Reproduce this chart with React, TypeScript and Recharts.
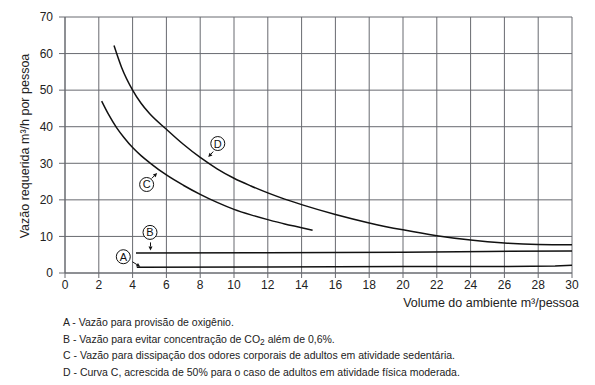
import { LineChart, Line, XAxis, YAxis, CartesianGrid } from 'recharts'

// volume (m3/pessoa) -> vazão (m3/h por pessoa)
const CURVE_A = [
  { v: 4.25, q: 1.6 }, { v: 12, q: 1.65 }, { v: 20, q: 1.75 }, { v: 26, q: 1.8 }, { v: 29, q: 1.9 }, { v: 30, q: 2.1 },
]
const CURVE_B = [
  { v: 4.2, q: 5.5 }, { v: 12, q: 5.55 }, { v: 20, q: 5.7 }, { v: 25, q: 5.9 }, { v: 30, q: 6.0 },
]
const CURVE_C = [
  { v: 2.17, q: 47 }, { v: 2.56, q: 43.5 }, { v: 3.06, q: 39.7 }, { v: 3.5, q: 37 }, { v: 4, q: 34.3 },
  { v: 4.5, q: 32.1 }, { v: 5, q: 30.2 }, { v: 6, q: 26.8 }, { v: 7, q: 24 }, { v: 8, q: 21.5 },
  { v: 9, q: 19.3 }, { v: 10, q: 17.4 }, { v: 11, q: 15.9 }, { v: 12, q: 14.6 }, { v: 13, q: 13.4 },
  { v: 14, q: 12.4 }, { v: 14.65, q: 11.7 },
]
const CURVE_D = [
  { v: 2.9, q: 62.2 }, { v: 3.35, q: 56.2 }, { v: 4, q: 50 }, { v: 4.5, q: 46.4 }, { v: 5, q: 43.6 },
  { v: 6, q: 39.3 }, { v: 7, q: 35.2 }, { v: 8, q: 31.6 }, { v: 9, q: 28.5 }, { v: 10, q: 25.9 },
  { v: 11, q: 23.8 }, { v: 12, q: 21.9 }, { v: 13, q: 20.2 }, { v: 14, q: 18.7 }, { v: 16, q: 16 },
  { v: 18, q: 13.7 }, { v: 20, q: 11.8 }, { v: 22, q: 10.2 }, { v: 24, q: 9 }, { v: 26, q: 8.2 },
  { v: 28, q: 7.8 }, { v: 30, q: 7.7 },
]

const X_TICKS = [0, 2, 4, 6, 8, 10, 12, 14, 16, 18, 20, 22, 24, 26, 28, 30]
const Y_TICKS = [0, 10, 20, 30, 40, 50, 60, 70]

// circled curve labels (data coords)
const MARKERS = [
  { id: 'A', v: 3.45, q: 4.45 },
  { id: 'B', v: 5.03, q: 11.1 },
  { id: 'C', v: 4.83, q: 24.2 },
  { id: 'D', v: 9.04, q: 35.4 },
]
// arrow start/end offsets from the circle centre, px
const ARROWS: Record<string, number[]> = {
  A: [9, 5, 17, 10],
  B: [0.5, 10, 0.5, 18],
  C: [5, -6, 10.5, -11.5],
  D: [-4.5, 8, -9.5, 13.5],
}

const NOTES = [
  <>A - Vazão para provisão de oxigênio.</>,
  <>B - Vazão para evitar concentração de CO<sub style={{ fontSize: '0.8em', verticalAlign: '-0.25em' }}>2</sub> além de 0,6%.</>,
  <>C - Vazão para dissipação dos odores corporais de adultos em atividade sedentária.</>,
  <>D - Curva C, acrescida de 50% para o caso de adultos em atividade física moderada.</>,
]

const FONT = '"Liberation Sans", Arial, sans-serif'
const GRID = '#686a70'
const INK = '#111111'

function Marker(props: any) {
  const { cx, cy, payload } = props
  if (cx == null || cy == null || !payload) return <g />
  const [x0, y0, x1, y1] = ARROWS[payload.id]
  const dx = x1 - x0
  const dy = y1 - y0
  const len = Math.hypot(dx, dy) || 1
  const ux = dx / len
  const uy = dy / len
  const ex = cx + x1
  const ey = cy + y1
  const bx = ex - ux * 4
  const by = ey - uy * 4
  const head = `${ex},${ey} ${bx - uy * 2},${by + ux * 2} ${bx + uy * 2},${by - ux * 2}`
  return (
    <g key={payload.id}>
      <circle cx={cx} cy={cy} r={7} fill="#fff" stroke={INK} strokeWidth={1} />
      <text x={cx} y={cy} textAnchor="middle" dominantBaseline="central" fontSize={11} fontFamily={FONT} fill={INK}>
        {payload.id}
      </text>
      <line x1={cx + x0} y1={cy + y0} x2={bx} y2={by} stroke={INK} strokeWidth={1} />
      <polygon points={head} fill={INK} />
    </g>
  )
}

export default function App() {
  return (
    <div style={{ position: 'absolute', left: 0, top: 0, width: 595, height: 385, background: '#fff' }}>
      <LineChart width={595} height={385} margin={{ top: 17, right: 23, left: 0, bottom: 0 }}>
        <CartesianGrid stroke={GRID} horizontal vertical />
        <XAxis
          type="number"
          dataKey="v"
          domain={[0, 30]}
          ticks={X_TICKS}
          height={112}
          tickSize={5}
          tickMargin={2}
          stroke={GRID}
          tick={{ fontSize: 12, fill: '#222', fontFamily: FONT }}
        />
        <YAxis
          type="number"
          dataKey="q"
          domain={[0, 70]}
          ticks={Y_TICKS}
          width={65}
          tickSize={6}
          tickMargin={6}
          stroke={GRID}
          tick={{ fontSize: 12, fill: '#222', fontFamily: FONT }}
        />
        <Line data={CURVE_A} dataKey="q" type="linear" stroke={INK} strokeWidth={1.5} dot={false} isAnimationActive={false} />
        <Line data={CURVE_B} dataKey="q" type="linear" stroke={INK} strokeWidth={1.5} dot={false} isAnimationActive={false} />
        <Line data={CURVE_C} dataKey="q" type="monotone" stroke={INK} strokeWidth={1.5} dot={false} isAnimationActive={false} />
        <Line data={CURVE_D} dataKey="q" type="monotone" stroke={INK} strokeWidth={1.5} dot={false} isAnimationActive={false} />
        <Line
          data={MARKERS}
          dataKey="q"
          stroke="none"
          dot={(p: any) => <Marker key={p.index} {...p} />}
          activeDot={false}
          isAnimationActive={false}
        />
      </LineChart>
      <div
        style={{
          position: 'absolute',
          left: 25,
          top: 146,
          transform: 'translate(-50%, -50%) rotate(-90deg)',
          fontFamily: FONT,
          fontSize: 12.5,
          color: '#222',
          whiteSpace: 'nowrap',
        }}
      >
        Vazão requerida m³/h por pessoa
      </div>
      <div style={{ position: 'absolute', right: 16, top: 296, fontFamily: FONT, fontSize: 12.5, color: '#222', whiteSpace: 'nowrap' }}>
        Volume do ambiente m³/pessoa
      </div>
      {NOTES.map((n, i) => (
        <div
          key={i}
          style={{
            position: 'absolute',
            left: 63,
            top: 314 + i * 16.5,
            fontFamily: FONT,
            fontSize: 10.5,
            lineHeight: '16px',
            color: '#222',
            whiteSpace: 'nowrap',
          }}
        >
          {n}
        </div>
      ))}
    </div>
  )
}
